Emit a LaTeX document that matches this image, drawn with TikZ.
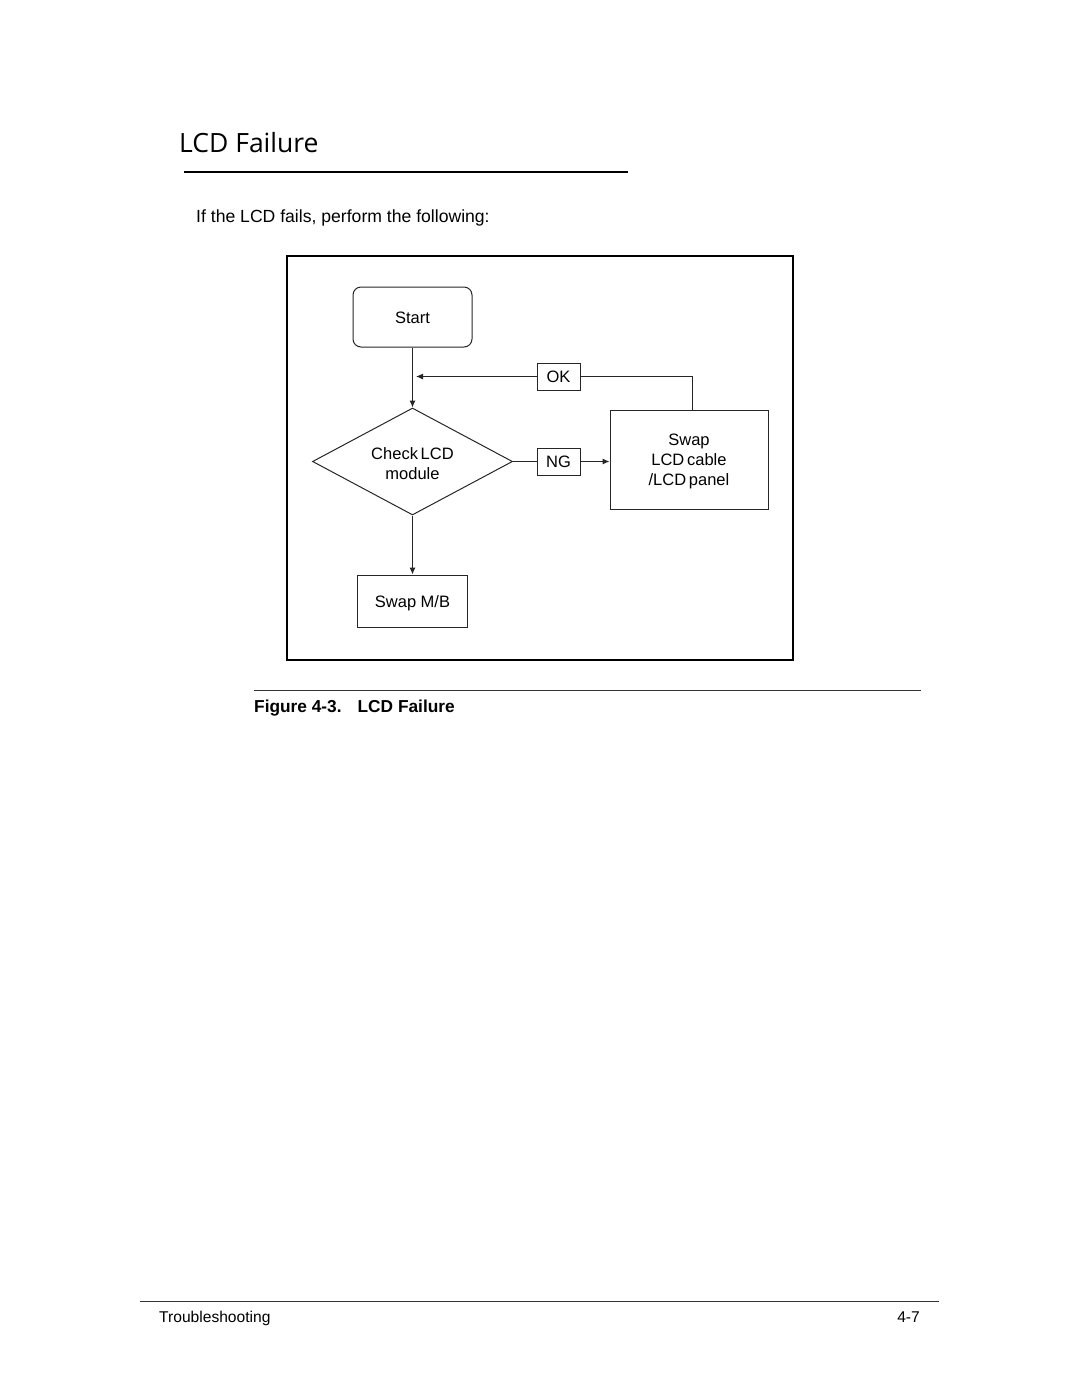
\documentclass[tikz,border=0pt]{standalone}
\usepackage{fontspec}
\setmainfont{Liberation Sans}
\newfontfamily\titlefont{Open Sans}
\usetikzlibrary{shapes.geometric,arrows.meta}
\newcommand\lowered[2]{\raisebox{-#1}[0pt][0pt]{#2}}
\begin{document}
\begin{tikzpicture}[x=1pt,y=-1pt,
  flow/.style={draw=black!85,line width=1pt,inner sep=0pt,font=\fontsize{16.5}{19}\selectfont},
  lbl/.style={flow,minimum width=43pt,minimum height=27pt},
  conn/.style={draw=black!85,line width=1pt},
  arr/.style={conn,-{Latex[length=7pt,width=6pt]}}]
\useasboundingbox (0,0) rectangle (1080,1397);
% header
\node[anchor=base west,inner sep=0pt,font=\titlefont\fontsize{26.5}{32}\selectfont] (title) at (179,152) {LCD Failure};
\draw[line width=2pt] (184,172) -- (628,172);
\node[anchor=base west,inner sep=0pt,font=\fontsize{17.6}{21}\selectfont] (intro) at (196,222) {If the LCD fails, perform the following:};
% frame
\draw[line width=2.4pt] (287,256) rectangle (793,660);
% nodes
\node[flow,rounded corners=8pt,minimum width=119pt,minimum height=60pt] (start) at (412.5,317) {\lowered{6.9pt}{Start}};
\node[flow,diamond,aspect=1.87,minimum width=200pt,minimum height=107pt] (check) at (412.5,461.5) {\lowered{8.4pt}{\begin{tabular}{@{}c@{}}Check\,LCD\\[0.5pt]module\end{tabular}}};
\node[lbl] (ok) at (558.5,376.5) {\lowered{6.3pt}{OK}};
\node[lbl] (ng) at (558.5,461.5) {\lowered{6.3pt}{NG}};
\node[flow,minimum width=158pt,minimum height=99pt] (swap) at (689,459.5) {\lowered{6.4pt}{\begin{tabular}{@{}c@{}}Swap\\[1pt]LCD\,cable\\[1pt]/LCD\,panel\end{tabular}}};
\node[flow,minimum width=110pt,minimum height=52pt] (mb) at (412.5,601) {\lowered{6.7pt}{Swap M/B}};
\coordinate (okin) at (416,376.5);
% connectors
\draw[arr] (start.south) -- (check.north);
\draw[conn] (swap.north) ++(3,0) coordinate (sn) -- (sn |- ok.east) -- (ok.east);
\draw[arr] (ok.west) -- (okin);
\draw[conn] (check.east) -- (ng.west);
\draw[arr] (ng.east) -- (ng.east -| swap.west);
\draw[arr] (check.south) -- (mb.north);
% caption
\draw[line width=0.7pt,black!80] (254,690) -- (921,690);
\node[anchor=base west,inner sep=0pt,font=\bfseries\fontsize{17.3}{20}\selectfont] (cap) at (254,712) {Figure 4-3.\hspace{16pt}LCD Failure};
% footer
\draw[line width=0.7pt,black!80] (140,1301) -- (939,1301);
\node[anchor=base west,inner sep=0pt,font=\fontsize{15.6}{18}\selectfont] (foot) at (159,1322) {Troubleshooting};
\node[anchor=base east,inner sep=0pt,font=\fontsize{15.6}{18}\selectfont] (page) at (920,1322) {4-7};
\end{tikzpicture}
\end{document}
